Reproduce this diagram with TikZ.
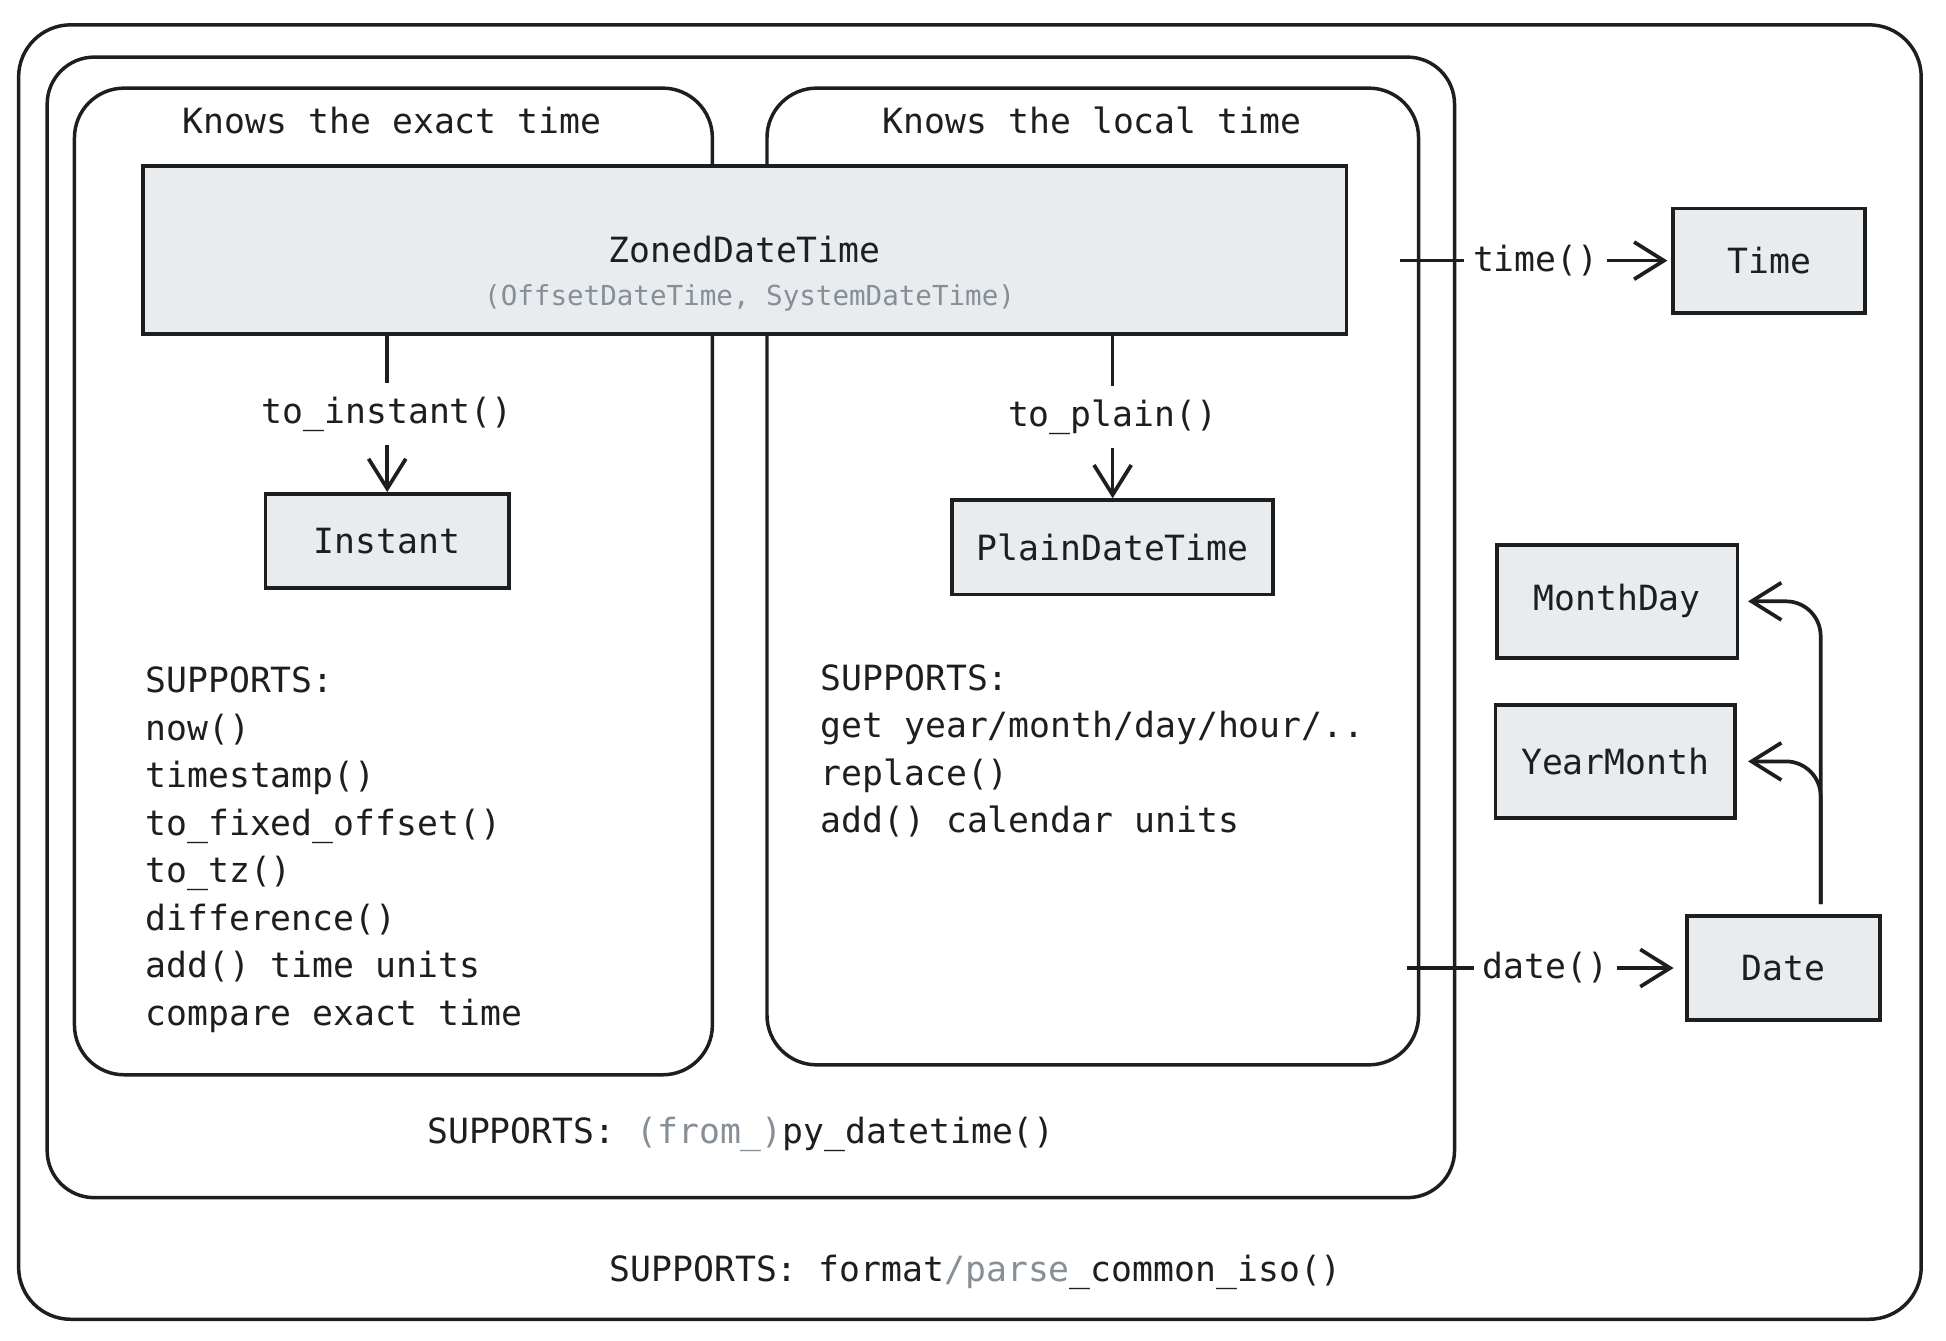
\documentclass[tikz,border=0pt]{standalone}
\usepackage{fontspec}
\newfontfamily\dmono{DejaVu Sans Mono}
\usetikzlibrary{arrows.meta,calc}
\definecolor{ink}{HTML}{1E1E1E}
\definecolor{boxfill}{HTML}{E9ECEF}
\definecolor{muted}{HTML}{868E96}
\begin{document}
\begin{tikzpicture}[x=1pt,y=-1pt,
  every node/.style={font=\dmono\fontsize{28}{38.3}\selectfont, text=ink, inner sep=0pt},
  container/.style={draw=ink, line width=2.8pt, rounded corners=#1},
  cls/.style={draw=ink, fill=boxfill, line width=3pt},
  arr/.style={draw=ink, line width=3pt, -{Straight Barb[length=24pt,width=30pt]}},
  lbl/.style={fill=white, inner xsep=7pt, inner ysep=11pt},
  smalltxt/.style={font=\dmono\fontsize{22.2}{26}\selectfont, text=muted}]
\useasboundingbox (0,0) rectangle (1568,1080);
\fill[white] (0,0) rectangle (1568,1080);

% containers
\node[container=42pt, minimum width=1533pt, minimum height=1043pt] (outer) at (781.5,541.5) {};
\node[container=38pt, minimum width=1134pt, minimum height=919pt] (inner) at (605,505.5) {};
\node[container=40pt, minimum width=514pt, minimum height=795pt] (leftbox) at (317,468.5) {};
\node[container=40pt, minimum width=525pt, minimum height=787pt] (rightbox) at (880.5,464.5) {};

\node (exacttitle) at (316,97) {Knows the exact time};
\node (localtitle) at (880,97) {Knows the local time};

% class boxes
\node[cls, minimum width=970pt, minimum height=135pt] (zoned) at (600,201.5) {};
\node (zonedname) at (600,201) {ZonedDateTime};
\node[smalltxt] (zonedalias) at (604,240) {(OffsetDateTime, SystemDateTime)};

\node[cls, minimum width=196pt, minimum height=76pt] (instant) at (312,436) {Instant};
\node[cls, minimum width=259pt, minimum height=76pt] (plain) at (896.5,441) {PlainDateTime};
\node[cls, minimum width=155pt, minimum height=84pt] (time) at (1425.5,210) {Time};
\node[cls, minimum width=156pt, minimum height=84pt] (date) at (1437,780) {Date};
\node[cls, minimum width=194pt, minimum height=91pt] (monthday) at (1303,484.5) {MonthDay};
\node[cls, minimum width=193pt, minimum height=91pt] (yearmonth) at (1301.5,613.5) {YearMonth};

% supports lists
\node[anchor=north west, align=left] (exactlist) at (117,537)
  {SUPPORTS:\\now()\\timestamp()\\to\_fixed\_offset()\\to\_tz()\\difference()\\add() time units\\compare exact time};
\node[anchor=north west, align=left] (locallist) at (661,535)
  {SUPPORTS:\\get year/month/day/hour/..\\replace()\\add() calendar units};

\node[anchor=west] (innersupports) at (344,914) {SUPPORTS: \textcolor{muted}{(from\_)}py\_datetime()};
\node[anchor=west] (outersupports) at (491,1025) {SUPPORTS: format\textcolor{muted}{/parse}\_common\_iso()};

% connectors
\draw[arr] (instant.north |- zoned.south) -- node[lbl] (toinstant) {to\_instant()} (instant.north);
\draw[arr] (plain.north |- zoned.south) -- node[lbl] (toplain) {to\_plain()} (plain.north);

\coordinate (ts) at (rightbox.east |- time.west);
\draw[arr, shorten >=3pt] ([xshift=-16pt]ts) -- node[lbl] (timelbl) {time()} (time.west);
\coordinate (dst) at (rightbox.east |- date.west);
\draw[arr, shorten >=9pt] ([xshift=-11pt]dst) -- node[lbl] (datelbl) {date()} (date.west);

\coordinate (dup) at ([xshift=30pt]date.north);
\draw[arr, rounded corners=28pt, shorten <=8pt, shorten >=7pt] (dup) |- (monthday.east);
\draw[arr, rounded corners=28pt, shorten <=8pt, shorten >=9pt] (dup) |- (yearmonth.east);
\end{tikzpicture}
\end{document}
